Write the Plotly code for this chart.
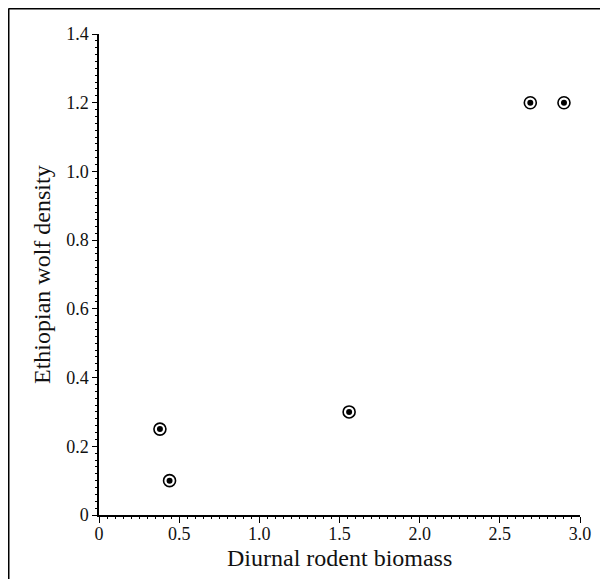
import plotly.graph_objects as go

biomass = [0.38, 0.44, 1.56, 2.69, 2.90]
wolf_density = [0.25, 0.10, 0.30, 1.20, 1.20]

x_tickvals = [0, 0.5, 1.0, 1.5, 2.0, 2.5, 3.0]
x_ticktext = ["0", "0.5", "1.0", "1.5", "2.0", "2.5", "3.0"]
y_tickvals = [0, 0.2, 0.4, 0.6, 0.8, 1.0, 1.2, 1.4]
y_ticktext = ["0", "0.2", "0.4", "0.6", "0.8", "1.0", "1.2", "1.4"]

# page body adds an 8px offset; keep figure inside the window (no scrollbars)
W, H = 600, 571
L, T = 91, 26
pw, ph = 481, 481
R, B = W - L - pw, H - T - ph

FONT = "Liberation Serif, Times New Roman, serif"

fig = go.Figure()
fig.add_trace(go.Scatter(
    x=biomass, y=wolf_density, mode="markers",
    marker=dict(symbol="circle-open", size=12, color="black", line=dict(width=1.6, color="black")),
    hoverinfo="skip", showlegend=False, cliponaxis=False))
fig.add_trace(go.Scatter(
    x=biomass, y=wolf_density, mode="markers",
    marker=dict(symbol="circle", size=6, color="black", line=dict(width=0)),
    showlegend=False, cliponaxis=False))

axis_common = dict(
    showgrid=False, zeroline=False, showline=True, linecolor="black", linewidth=1.5,
    ticks="outside", tickcolor="black", tickwidth=1.2,
    tickfont=dict(family=FONT, size=18, color="#111"),
)
fig.update_xaxes(range=[0, 3.0], tickvals=x_tickvals, ticktext=x_ticktext, ticklen=6,
                 ticklabelstandoff=-4,
                 minor=dict(dtick=0.05, tick0=0, ticks="outside", ticklen=2, tickcolor="black", tickwidth=1),
                 **axis_common)
fig.update_yaxes(range=[0, 1.4], tickvals=y_tickvals, ticktext=y_ticktext, ticklen=5,
                 minor=dict(dtick=0.02, tick0=0, ticks="outside", ticklen=2, tickcolor="black", tickwidth=1),
                 **axis_common)

# outer frame: only top and left edges visible (rest cropped)
fx0 = (0.5 - L) / pw
fy1 = 1 - (0.5 - T) / ph
fig.add_shape(type="line", xref="paper", yref="paper",
              x0=fx0, x1=(W - L) / pw, y0=fy1, y1=fy1,
              line=dict(color="black", width=2), layer="below")
fig.add_shape(type="line", xref="paper", yref="paper",
              x0=fx0, x1=fx0, y0=1 - (H - T) / ph, y1=fy1,
              line=dict(color="black", width=2), layer="below")

fig.add_annotation(text="Diurnal rodent biomass", xref="paper", yref="paper",
                   x=0.5, y=1 - (550 - T) / ph, showarrow=False,
                   font=dict(family=FONT, size=24, color="#111"), xanchor="center", yanchor="middle")
fig.add_annotation(text="Ethiopian wolf density", xref="paper", yref="paper",
                   x=(34 - L) / pw, y=1 - (267 - T) / ph, showarrow=False, textangle=-90,
                   font=dict(family=FONT, size=24, color="#111"), xanchor="center", yanchor="middle")

fig.update_layout(width=W, height=H, margin=dict(l=L, r=R, t=T, b=B),
                  plot_bgcolor="white", paper_bgcolor="white")
fig.write_html("out.html")
